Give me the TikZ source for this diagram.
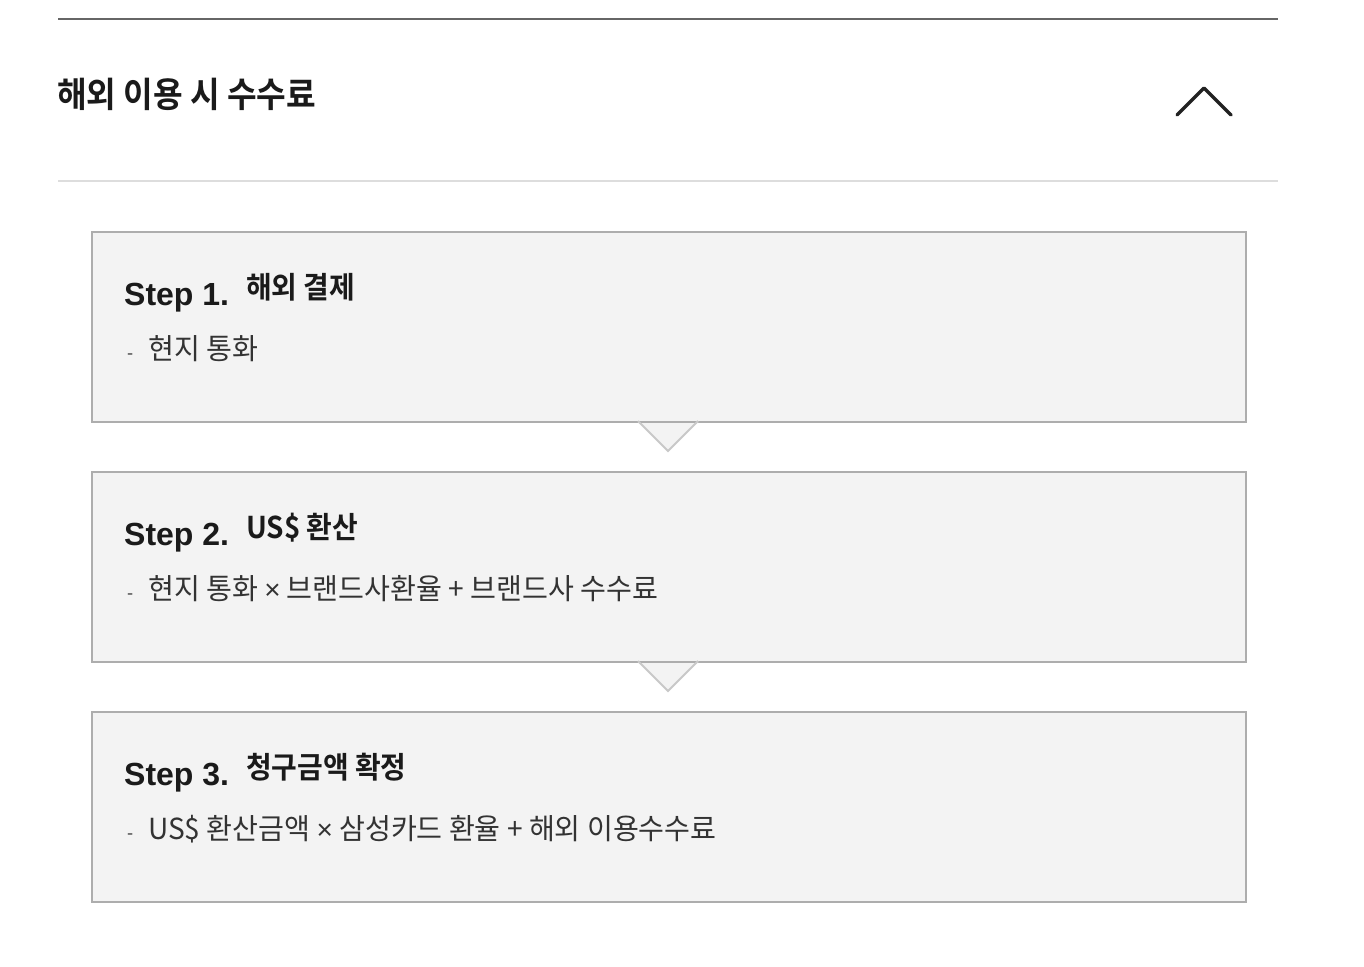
\documentclass[tikz,border=0pt]{standalone}
\usepackage{fontspec}
\setmainfont{Liberation Sans}
\newfontfamily\krt{Noto Sans CJK KR}[BoldFont={Noto Sans CJK KR Bold}, FakeStretch=0.92]
\newfontfamily\krh{Noto Sans CJK KR}[BoldFont={Noto Sans CJK KR Bold}, FakeStretch=0.93]
\newfontfamily\krb{Noto Sans CJK KR}[FakeStretch=0.97]
\newcommand{\tms}{{\rmfamily\fontsize{28}{32}\selectfont ×}}
\definecolor{boxfill}{HTML}{F3F3F3}
\definecolor{boxline}{HTML}{ADADAD}
\definecolor{notchline}{HTML}{C8C8C8}
\definecolor{txt}{HTML}{1A1A1A}
\definecolor{bodytxt}{HTML}{333333}
\definecolor{darkrule}{HTML}{666666}
\definecolor{lightrule}{HTML}{DDDDDD}
\definecolor{chev}{HTML}{222222}
\tikzset{
  stepbox/.style={draw=boxline, fill=boxfill, line width=2pt, minimum width=1154pt, minimum height=190pt, anchor=north west, inner sep=0pt},
  title/.style={anchor=base west, inner sep=0pt, text=txt, font=\krt\bfseries\fontsize{35}{40}\selectfont},
  steplabel/.style={anchor=base west, inner sep=0pt, text=txt, font=\bfseries\fontsize{32}{36}\selectfont},
  stephead/.style={anchor=base west, inner sep=0pt, text=txt, font=\krh\bfseries\fontsize{30}{34}\selectfont},
  stepbody/.style={anchor=base west, inner sep=0pt, text=bodytxt, font=\krb\fontsize{29}{33}\selectfont},
  dashmark/.style={anchor=base west, inner sep=0pt, text=bodytxt, font=\krb\fontsize{18}{22}\selectfont},
  notchfill/.style={fill=boxfill},
  notchedge/.style={draw=notchline, line width=2pt},
}
\begin{document}
\begin{tikzpicture}[x=1pt,y=-1pt]
\useasboundingbox (0,0) rectangle (1364,966);
\fill[white] (0,0) rectangle (1364,966);
% rules
\coordinate (r1a) at (58,19); \coordinate (r1b) at (1278,19);
\coordinate (r2a) at (58,181); \coordinate (r2b) at (1278,181);
\draw[darkrule, line width=2pt] (r1a) -- (r1b);
\draw[lightrule, line width=2pt] (r2a) -- (r2b);
% title
\node[title] (ttl) at (57,107) {해외 이용 시 수수료};
% chevron
\coordinate (c1) at (1177,115); \coordinate (c2) at (1204,88); \coordinate (c3) at (1231,115);
\draw[chev, line width=3.5pt, line cap=round, line join=round] (c1) -- (c2) -- (c3);
% boxes
\node[stepbox] (s1) at (91,231) {};
\node[stepbox] (s2) at (91,471) {};
\node[stepbox] (s3) at (91,711) {};
% notches
\coordinate (n1l) at (638,421); \coordinate (n1) at (668,451); \coordinate (n1r) at (698,421);
\coordinate (n2l) at (638,661); \coordinate (n2) at (668,691); \coordinate (n2r) at (698,661);
\fill[notchfill] ([yshift=-2pt]n1l) -- ([yshift=-2pt]n1r) -- (n1r) -- (n1) -- (n1l) -- cycle;
\draw[notchedge] (n1l) -- (n1) -- (n1r);
\fill[notchfill] ([yshift=-2pt]n2l) -- ([yshift=-2pt]n2r) -- (n2r) -- (n2) -- (n2l) -- cycle;
\draw[notchedge] (n2l) -- (n2) -- (n2r);
% step 1
\node[steplabel] (l1) at (124,305) {Step 1.};
\node[stephead] (h1) at (246,298) {해외 결제};
\node[dashmark] (d1) at (127,359) {-};
\node[stepbody] (b1) at (148,359) {현지 통화};
% step 2
\node[steplabel] (l2) at (124,545) {Step 2.};
\node[stephead] (h2) at (246,538) {US\$ 환산};
\node[dashmark] (d2) at (127,599) {-};
\node[stepbody] (b2) at (148,599) {현지 통화 \tms\ 브랜드사환율 + 브랜드사 수수료};
% step 3
\node[steplabel] (l3) at (124,785) {Step 3.};
\node[stephead] (h3) at (246,778) {청구금액 확정};
\node[dashmark] (d3) at (127,839) {-};
\node[stepbody] (b3) at (148,839) {US\$ 환산금액 \tms\ 삼성카드 환율 + 해외 이용수수료};
\end{tikzpicture}
\end{document}
